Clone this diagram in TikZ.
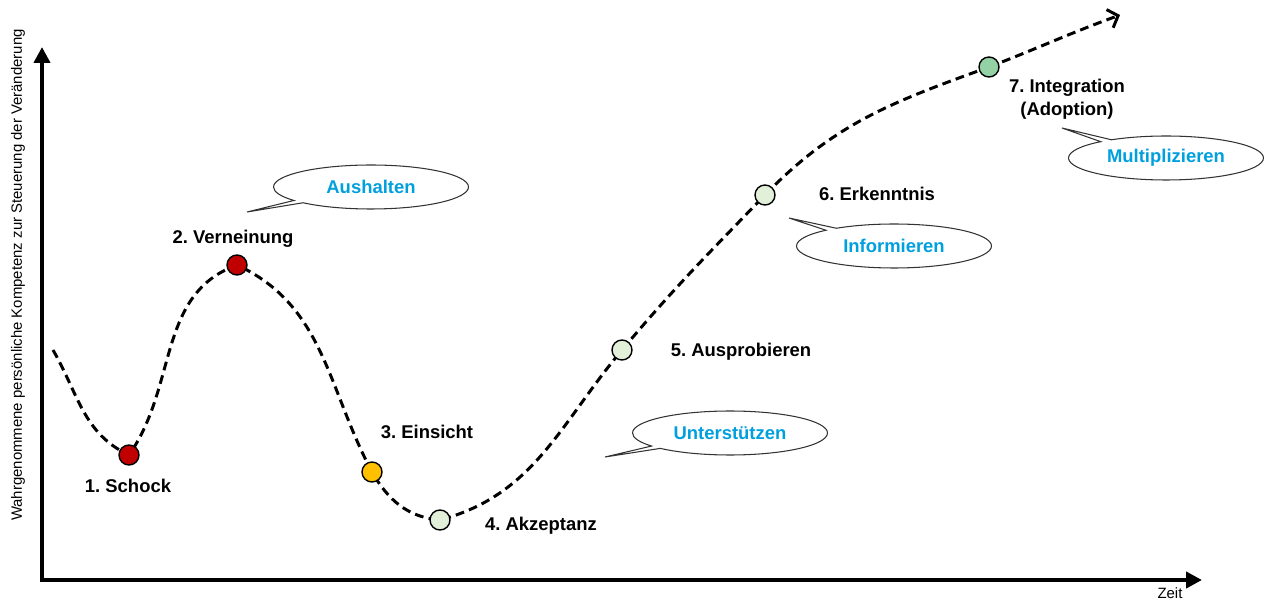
\documentclass[tikz,border=0pt]{standalone}
\usepackage{fontspec}
\setmainfont{Liberation Sans}
\usetikzlibrary{arrows.meta,shapes.callouts}
\frenchspacing

\definecolor{schockred}{RGB}{192,0,0}
\definecolor{einsichtgelb}{RGB}{255,192,0}
\definecolor{hellgruen}{RGB}{226,240,217}
\definecolor{gruen}{RGB}{146,210,165}
\definecolor{sprechblau}{RGB}{0,160,222}

\tikzset{
  phase/.style={circle,draw=black,line width=0.8pt,minimum size=0.4cm,inner sep=0pt},
  phasetext/.style={font=\bfseries\fontsize{10.5}{13}\selectfont,align=center},
  blase/.style={ellipse callout,draw=black!80,line width=0.6pt,fill=white,
    minimum width=3.9cm,minimum height=0.88cm,text=sprechblau,callout pointer arc=8,
    font=\bfseries\fontsize{10.5}{13}\selectfont},
  kurve/.style={line width=1.7pt,dash pattern=on 5pt off 3pt}
}

\begin{document}
\begin{tikzpicture}[x=0.02cm,y=0.02cm]
\useasboundingbox (0,0) rectangle (1264,602);

% axes
\coordinate (origin) at (42,22);
\coordinate (ytip) at (42,555);
\coordinate (xtip) at (1202,22);
\draw[line width=2.3pt,{Triangle[length=9pt,width=9pt]}-{Triangle[length=9pt,width=9pt]}] (ytip) |- (xtip);
\node[rotate=90,font=\fontsize{8.5}{10}\selectfont] (ylabel) at (18,327) {Wahrgenommene persönliche Kompetenz zur Steuerung der Veränderung};
\node[font=\fontsize{8.5}{10}\selectfont] (xlabel) at (1170,9) {Zeit};

% curve
\coordinate (start) at (53,252);
\coordinate (c1) at (129,147);
\coordinate (c2) at (237,337);
\coordinate (c3) at (372,130);
\coordinate (c4) at (440,82);
\coordinate (c5) at (622,252);
\coordinate (c6) at (765,407);
\coordinate (c7) at (989,535);
\coordinate (ende) at (1120,587);
\draw[kurve] (start) to[out=-60,in=155] (c1)
  to[out=55,in=200] (c2)
  to[out=-25,in=118] (c3)
  to[out=-60,in=175] (c4)
  to[out=15,in=230] (c5)
  to[out=50,in=226] (c6)
  to[out=46,in=200] (c7);
\draw[kurve,-{Straight Barb[length=5pt,width=11pt,line width=1.7pt]}] (c7) to[out=21,in=200] (ende);

% phases
\node[phase,fill=schockred] (p1) at (c1) {};
\node[phase,fill=schockred] (p2) at (c2) {};
\node[phase,fill=einsichtgelb] (p3) at (c3) {};
\node[phase,fill=hellgruen] (p4) at (c4) {};
\node[phase,fill=hellgruen] (p5) at (c5) {};
\node[phase,fill=hellgruen] (p6) at (c6) {};
\node[phase,fill=gruen] (p7) at (c7) {};

% labels
\node[phasetext] (l1) at (128,116) {1. Schock};
\node[phasetext] (l2) at (233,363) {2. Verneinung};
\node[phasetext] (l3) at (427,170) {3. Einsicht};
\node[phasetext] (l4) at (541,76) {4. Akzeptanz};
\node[phasetext] (l5) at (741,250) {5. Ausprobieren};
\node[phasetext] (l6) at (877,408) {6. Erkenntnis};
\node[phasetext] (l7) at (1067,503) {7. Integration\\(Adoption)};

% callouts
\coordinate (t1) at (247,390);
\coordinate (t2) at (605,145);
\coordinate (t3) at (789,384);
\coordinate (t4) at (1062,474);
\node[blase,callout absolute pointer={(t1)}] (b1) at (371,415) {Aushalten};
\node[blase,callout absolute pointer={(t2)}] (b2) at (730,169) {Unterstützen};
\node[blase,callout absolute pointer={(t3)}] (b3) at (894,356) {Informieren};
\node[blase,callout absolute pointer={(t4)}] (b4) at (1166,444) {Multiplizieren};
\end{tikzpicture}
\end{document}
